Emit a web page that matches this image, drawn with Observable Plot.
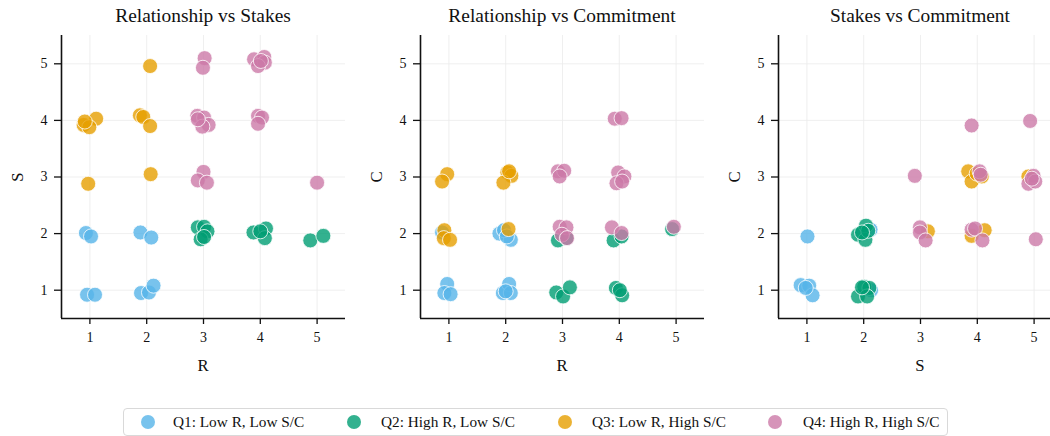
<!DOCTYPE html>
<html>
<head>
<meta charset="utf-8">
<script src="https://cdn.jsdelivr.net/npm/d3@7"></script>
<script src="https://cdn.jsdelivr.net/npm/@observablehq/plot@0.6"></script>
<style>
  html, body { margin: 0; padding: 0; background: #fff; overflow: hidden; }
  #wrap { position: relative; width: 1050px; height: 436px; overflow: hidden; font-family: "Liberation Serif", "Times New Roman", "DejaVu Serif", serif; color: #111; }
  .panel { position: absolute; top: 0; }
  .panel text { font-family: "Liberation Serif", "Times New Roman", serif !important; }
  .title { position: absolute; top: 5px; font-size: 19.4px; line-height: 22px; text-align: center; width: 300px; }
  .xlab { position: absolute; top: 355px; font-size: 16.7px; line-height: 22px; text-align: center; width: 100px; }
  .ylab { position: absolute; font-size: 16.7px; line-height: 22px; text-align: center; width: 100px; transform: rotate(-90deg); }
  #legend { position: absolute; left: 123px; top: 408px; width: 825px; height: 28px; border: 1px solid #d9d9d9; border-radius: 4px; box-sizing: border-box; font-size: 15.3px; }
  .sw { position: absolute; top: 6px; width: 14px; height: 14px; border-radius: 50%; opacity: 0.8; }
  .lt { position: absolute; top: 3px; line-height: 20px; white-space: nowrap; }
</style>
</head>
<body>
<div id="wrap"></div>
<script>
const quadrants = ["Q1: Low R, Low S/C", "Q2: High R, Low S/C", "Q3: Low R, High S/C", "Q4: High R, High S/C"];
const colors = ["#56B4E9", "#009E73", "#E69F00", "#CC79A7"];
const ticks = [1, 2, 3, 4, 5];
const panelTitles = ["Relationship vs Stakes", "Relationship vs Commitment", "Stakes vs Commitment"];
const xLabels = ["R", "R", "S"];
const yLabels = ["S", "C", "C"];

// Panel 1: R vs S  [x, y, quadrant index]
const relStakes = [
  [0.93,2.01,0],[1.02,1.95,0],[1.89,2.02,0],[2.08,1.93,0],
  [0.95,0.92,0],[1.09,0.92,0],[1.90,0.95,0],[2.04,0.96,0],[2.12,1.08,0],
  [2.90,2.11,1],[3.01,2.12,1],[3.07,2.04,1],[2.95,1.90,1],[3.01,1.94,1],
  [3.88,2.02,1],[4.10,2.09,1],[4.08,1.92,1],[4.00,2.04,1],
  [4.88,1.88,1],[5.11,1.96,1],
  [2.06,4.96,2],[0.89,3.92,2],[1.11,4.03,2],[0.99,3.88,2],[0.91,3.98,2],
  [1.88,4.09,2],[1.94,4.06,2],[2.06,3.90,2],[0.97,2.88,2],[2.07,3.05,2],
  [3.02,5.10,3],[2.99,4.93,3],
  [3.89,5.08,3],[4.07,5.12,3],[4.08,5.02,3],[3.96,4.96,3],[4.01,5.05,3],
  [2.89,4.08,3],[3.01,4.05,3],[3.09,3.92,3],[2.98,3.89,3],[2.90,4.02,3],
  [3.96,4.08,3],[4.03,4.05,3],[3.96,3.94,3],
  [3.00,3.09,3],[2.90,2.94,3],[3.06,2.90,3],[5.00,2.90,3]
];

// Panel 2: R vs C
const relCommit = [
  [0.88,2.02,0],[1.89,2.00,0],[2.09,1.89,0],[1.97,2.06,0],[2.02,1.95,0],
  [0.97,1.11,0],[0.92,0.95,0],[1.03,0.93,0],
  [1.95,0.95,0],[2.06,1.11,0],[2.09,0.95,0],[2.00,0.98,0],
  [2.92,1.88,1],[3.07,1.92,1],[3.90,1.88,1],[4.04,1.95,1],[4.93,2.08,1],
  [2.89,0.96,1],[3.01,0.89,1],[3.13,1.05,1],
  [3.94,1.04,1],[4.05,0.91,1],[4.01,1.00,1],
  [0.97,3.05,2],[0.88,2.92,2],
  [2.03,3.08,2],[2.10,3.02,2],[1.96,2.90,2],[2.06,3.10,2],
  [0.92,2.06,2],[0.91,1.92,2],[1.02,1.89,2],[2.05,2.08,2],
  [3.92,4.03,3],[4.04,4.04,3],
  [2.92,3.10,3],[3.03,3.11,3],[2.95,3.01,3],
  [3.98,3.08,3],[4.09,3.01,3],[3.95,2.89,3],[4.05,2.92,3],
  [2.95,2.12,3],[3.07,2.11,3],[2.99,1.98,3],[3.08,1.92,3],
  [3.87,2.11,3],[4.04,2.01,3],[4.96,2.12,3]
];

// Panel 3: S vs C
const stakesCommit = [
  [1.01,1.95,0],[0.89,1.09,0],[1.04,1.08,0],[1.10,0.91,0],[0.98,1.04,0],
  [2.12,2.07,0],[2.13,1.00,0],
  [1.90,1.98,1],[2.04,2.14,1],[2.03,1.89,1],[2.08,2.05,1],[1.97,2.02,1],
  [1.90,0.89,1],[2.01,1.06,1],[2.10,1.04,1],[2.06,0.89,1],[1.97,1.05,1],
  [3.84,3.10,2],[3.90,2.92,2],[3.99,3.06,2],[4.08,3.01,2],
  [3.90,1.96,2],[4.13,2.06,2],[3.13,2.04,2],[4.90,3.01,2],
  [2.90,3.02,3],[3.90,3.91,3],[4.93,3.99,3],
  [4.04,3.10,3],[4.06,3.04,3],
  [4.90,2.88,3],[4.99,3.02,3],[5.02,2.92,3],[4.96,2.97,3],
  [2.99,2.11,3],[2.99,2.02,3],[3.09,1.88,3],
  [3.90,2.07,3],[3.96,2.09,3],[4.09,1.88,3],[5.03,1.90,3]
];

const panels = [relStakes, relCommit, stakesCommit];
const lefts = [0, 359, 717];
const mL = 61, mT = 35, plotW = 284, plotH = 283;
const serif = "'Liberation Serif', 'Times New Roman', serif";

const wrap = document.getElementById("wrap");

panels.forEach((pts, i) => {
  const data = pts.map(([x, y, q]) => ({x, y, q: quadrants[q]}));
  const chart = Plot.plot({
    width: mL + plotW + 5,
    height: 385,
    marginLeft: mL,
    marginRight: 5,
    marginTop: mT,
    marginBottom: 385 - mT - plotH,
    style: {fontFamily: serif, fontSize: "14px", color: "#111", background: "transparent"},
    x: {domain: [0.5, 5.5]},
    y: {domain: [0.5, 5.5]},
    color: {domain: quadrants, range: colors},
    marks: [
      Plot.gridX(ticks, {stroke: "#ebebeb", strokeOpacity: 1, strokeWidth: 0.8}),
      Plot.gridY(ticks, {stroke: "#ebebeb", strokeOpacity: 1, strokeWidth: 0.8}),
      Plot.dot(data, {x: "x", y: "y", fill: "q", r: 7.5, fillOpacity: 0.8, stroke: "white", strokeWidth: 0.8}),
      Plot.axisX(ticks, {tickSize: 6, tickPadding: 8, tickFormat: d => String(d), label: null, fontSize: 14, fontFamily: serif, strokeWidth: 1.3}),
      Plot.axisY(ticks, {tickSize: 7, tickPadding: 7, tickFormat: d => String(d), label: null, fontSize: 14, fontFamily: serif, strokeWidth: 1.3}),
      Plot.ruleX([0.5], {stroke: "#111", strokeWidth: 1.6}),
      Plot.ruleY([0.5], {stroke: "#111", strokeWidth: 1.6})
    ]
  });
  chart.classList.add("panel");
  chart.style.left = lefts[i] + "px";
  wrap.appendChild(chart);

  const cx = lefts[i] + mL + plotW / 2;

  const t = document.createElement("div");
  t.className = "title";
  t.textContent = panelTitles[i];
  t.style.left = (cx - 150) + "px";
  wrap.appendChild(t);

  const xl = document.createElement("div");
  xl.className = "xlab";
  xl.textContent = xLabels[i];
  xl.style.left = (cx - 50) + "px";
  wrap.appendChild(xl);

  const yl = document.createElement("div");
  yl.className = "ylab";
  yl.textContent = yLabels[i];
  yl.style.left = (lefts[i] + 18 - 50) + "px";
  yl.style.top = (mT + plotH / 2 - 11) + "px";
  wrap.appendChild(yl);
});

const legend = document.createElement("div");
legend.id = "legend";
const swatchX = [17, 223, 434, 644];
const textX = [49, 257, 468, 679];
quadrants.forEach((q, i) => {
  const sw = document.createElement("div");
  sw.className = "sw";
  sw.style.left = swatchX[i] + "px";
  sw.style.background = colors[i];
  const tx = document.createElement("span");
  tx.className = "lt";
  tx.style.left = textX[i] + "px";
  tx.textContent = q;
  legend.appendChild(sw);
  legend.appendChild(tx);
});
wrap.appendChild(legend);
</script>
</body>
</html>
